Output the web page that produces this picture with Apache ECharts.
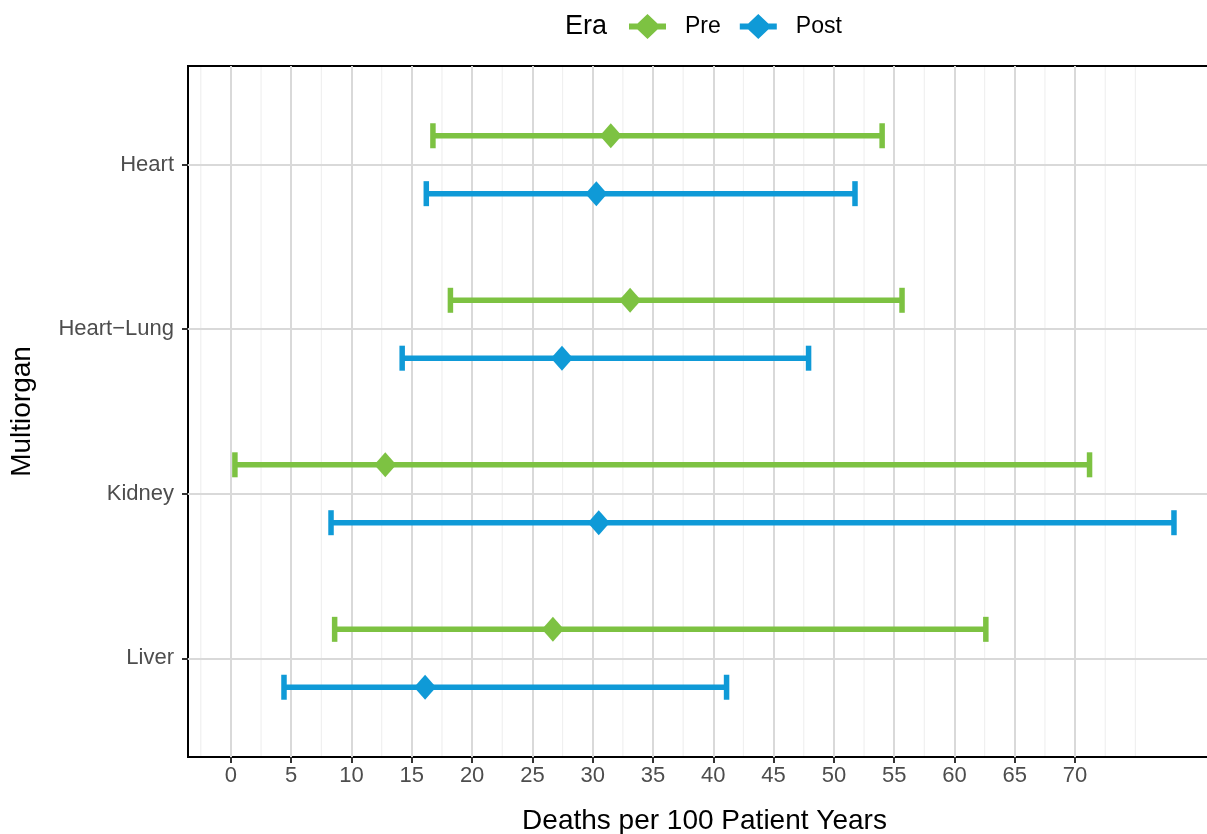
<!DOCTYPE html>
<html>
<head>
<meta charset="utf-8">
<script src="https://cdn.jsdelivr.net/npm/echarts@6/dist/echarts.min.js"></script>
<style>
html,body{margin:0;padding:0;background:#fff;}
#chart{width:1207px;height:834px;}
</style>
</head>
<body>
<div id="chart"></div>
<script>
// ---- data ----
const categories = ["Heart", "Heart\u2212Lung", "Kidney", "Liver"];
const eras = ["Pre", "Post"];
const preLow  = [16.75, 18.2, 0.33, 8.6];
const preMid  = [31.5, 33.1, 12.8, 26.7];
const preHigh = [54.0, 55.65, 71.2, 62.6];
const postLow  = [16.2, 14.2, 8.3, 4.4];
const postMid  = [30.3, 27.45, 30.5, 16.1];
const postHigh = [51.75, 47.9, 78.2, 41.1];
const xTicks = [0, 5, 10, 15, 20, 25, 30, 35, 40, 45, 50, 55, 60, 65, 70];
const xMinorBreaks = [-2.5, 2.5, 7.5, 12.5, 17.5, 22.5, 27.5, 32.5, 37.5, 42.5, 47.5, 52.5, 57.5, 62.5, 67.5, 72.5, 75];

const colors = { Pre: "#7DC242", Post: "#0F9AD7" };
const offsets = { Pre: -0.176, Post: 0.176 };
const FONT = 'Liberation Sans, Arial, sans-serif';

function rows(lo, mid, hi) {
  return categories.map((c, i) => [i + 1, lo[i], mid[i], hi[i]]);
}

function makeRender(offset, color) {
  return function (params, api) {
    const y = api.value(0) + offset;
    const pLo = api.coord([api.value(1), y]);
    const pMid = api.coord([api.value(2), y]);
    const pHi = api.coord([api.value(3), y]);
    const cap = 12.5, dx = 11, dy = 12.5;
    const st = { stroke: color, lineWidth: 5.5 };
    return {
      type: 'group',
      children: [
        { type: 'line', shape: { x1: pLo[0], y1: pLo[1], x2: pHi[0], y2: pHi[1] }, style: st },
        { type: 'line', shape: { x1: pLo[0], y1: pLo[1] - cap, x2: pLo[0], y2: pLo[1] + cap }, style: st },
        { type: 'line', shape: { x1: pHi[0], y1: pHi[1] - cap, x2: pHi[0], y2: pHi[1] + cap }, style: st },
        { type: 'polygon', shape: { points: [[pMid[0], pMid[1] - dy], [pMid[0] + dx, pMid[1]], [pMid[0], pMid[1] + dy], [pMid[0] - dx, pMid[1]]] }, style: { fill: color } }
      ]
    };
  };
}

const legendIcon = 'path://M0,9.5 L8.5,9.5 L18.5,0 L28.5,9.5 L37,9.5 L37,15.5 L28.5,15.5 L18.5,25 L8.5,15.5 L0,15.5 Z';

const chart = echarts.init(document.getElementById('chart'), null, { renderer: 'canvas' });
chart.setOption({
  animation: false,
  backgroundColor: '#fff',
  textStyle: { fontFamily: FONT },
  graphic: [{
    type: 'text', left: 565, top: 13,
    style: { text: 'Era', fontSize: 27, fill: '#000', fontFamily: FONT }
  }],
  legend: {
    left: 629, top: 14, padding: 0,
    itemWidth: 37, itemHeight: 25, itemGap: 19,
    textStyle: { fontSize: 23, color: '#000', padding: [0, 0, 0, 14] },
    data: eras.map(e => ({ name: e, icon: legendIcon, itemStyle: { color: colors[e] } }))
  },
  grid: {
    left: 188, top: 66, width: 1033, bottom: 77,
    outerBoundsMode: 'none', containLabel: false,
    show: true, borderColor: '#000', borderWidth: 2, backgroundColor: 'transparent'
  },
  xAxis: {
    type: 'value', min: -3.56, max: 82.1,
    name: 'Deaths per 100 Patient Years', nameLocation: 'middle', nameGap: 50,
    nameTextStyle: { fontSize: 28, color: '#000' },
    axisLine: { show: false, onZero: false },
    axisTick: { show: true, length: 6, customValues: xTicks, lineStyle: { color: '#333', width: 2 } },
    axisLabel: { customValues: xTicks, fontSize: 22, color: '#4D4D4D', margin: 8 },
    splitLine: { show: true, lineStyle: { color: '#D9D9D9', width: 2 } }
  },
  yAxis: {
    type: 'value', min: 0.4, max: 4.6, inverse: true,
    name: 'Multiorgan', nameLocation: 'middle', nameGap: 152, nameRotate: 90,
    nameTextStyle: { fontSize: 28, color: '#000' },
    axisLine: { show: false, onZero: false },
    axisTick: { show: true, length: 6, customValues: [1, 2, 3, 4], lineStyle: { color: '#333', width: 2 } },
    axisLabel: {
      customValues: [1, 2, 3, 4], fontSize: 22, color: '#4D4D4D', margin: 14,
      formatter: v => categories[Math.round(v) - 1] || ''
    },
    splitLine: { show: true, lineStyle: { color: '#D9D9D9', width: 2 } }
  },
  series: [
    {
      type: 'custom', name: '_minor', z: -1, silent: true,
      data: xMinorBreaks.map(v => [v]),
      renderItem: function (params, api) {
        const top = api.coord([api.value(0), 0.4]);
        const bot = api.coord([api.value(0), 4.6]);
        return { type: 'line', shape: { x1: top[0], y1: top[1], x2: bot[0], y2: bot[1] }, style: { stroke: '#F0F0F0', lineWidth: 1.2 } };
      }
    },
    {
      type: 'custom', name: 'Pre', itemStyle: { color: colors.Pre },
      data: rows(preLow, preMid, preHigh),
      renderItem: makeRender(offsets.Pre, colors.Pre)
    },
    {
      type: 'custom', name: 'Post', itemStyle: { color: colors.Post },
      data: rows(postLow, postMid, postHigh),
      renderItem: makeRender(offsets.Post, colors.Post)
    }
  ]
});
</script>
</body>
</html>
